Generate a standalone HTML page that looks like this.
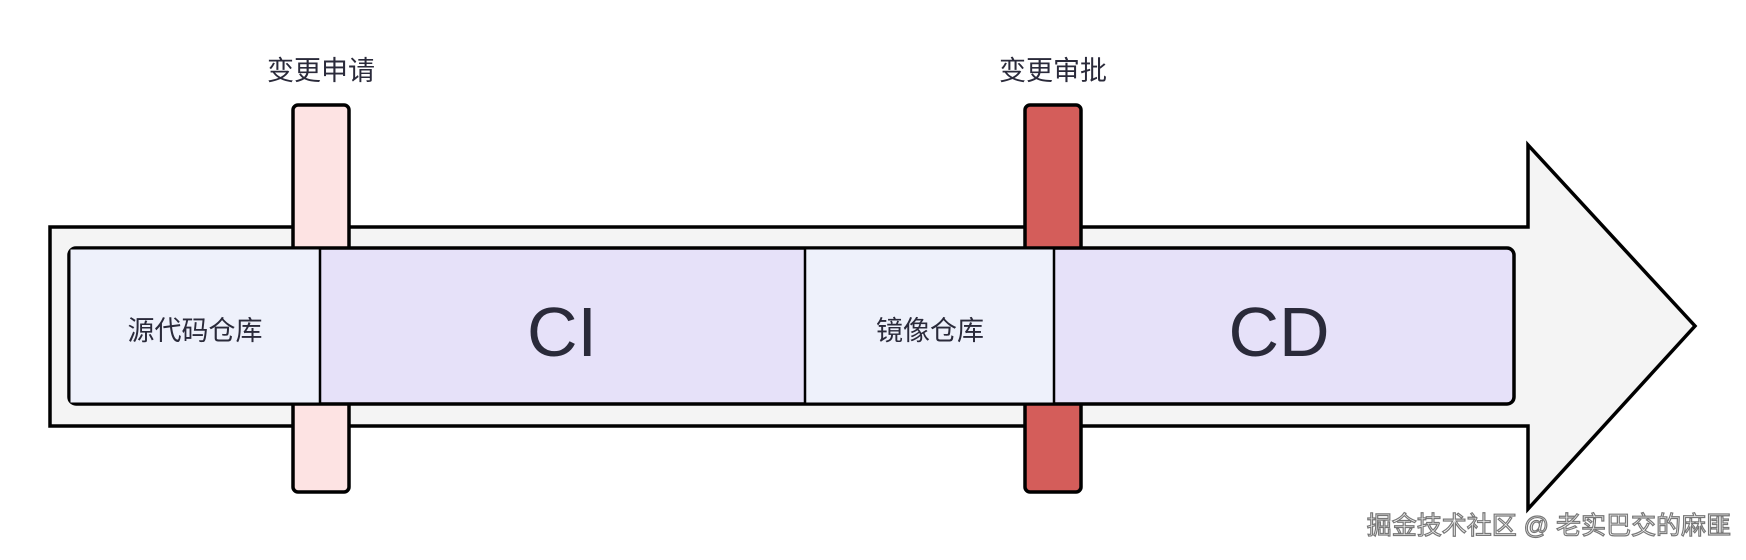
<!DOCTYPE html>
<html><head><meta charset="utf-8"><style>html,body{margin:0;padding:0;background:#fff}svg{display:block}text{font-family:"Liberation Sans","Noto Sans CJK SC",sans-serif;fill:#2a2a3a}</style></head>
<body>
<svg width="1746" height="560" viewBox="0 0 1746 560" xmlns="http://www.w3.org/2000/svg">
<polygon points="50,227 1528,227 1528,145 1695,326 1528,509 1528,426 50,426" fill="#f4f4f4" stroke="#000" stroke-width="3.5" stroke-linejoin="miter"/>
<rect x="293" y="105" width="56" height="387" rx="5" fill="#fde3e3" stroke="#000" stroke-width="3.5"/>
<rect x="1025" y="105" width="56" height="387" rx="5" fill="#d45d5a" stroke="#000" stroke-width="3.5"/>
<rect x="69" y="248" width="1445" height="156" rx="7" fill="#e6e1f9" stroke="#000" stroke-width="3.5"/>
<rect x="70.5" y="249.5" width="249" height="153" fill="#eef1fb"/>
<rect x="805" y="249.5" width="249" height="153" fill="#eef1fb"/>
<line x1="320" y1="248" x2="320" y2="404" stroke="#000" stroke-width="2.5"/>
<line x1="805" y1="248" x2="805" y2="404" stroke="#000" stroke-width="2.5"/>
<line x1="1054" y1="248" x2="1054" y2="404" stroke="#000" stroke-width="2.5"/>
<text x="321" y="80" font-size="27" text-anchor="middle">变更申请</text>
<text x="1053" y="80" font-size="27" text-anchor="middle">变更审批</text>
<text x="195" y="340" font-size="27" text-anchor="middle">源代码仓库</text>
<text x="562" y="356" font-size="70" text-anchor="middle">CI</text>
<text x="930" y="340" font-size="27" text-anchor="middle">镜像仓库</text>
<text x="1279" y="356" font-size="70" text-anchor="middle">CD</text>
<text x="1731" y="534" font-size="25" text-anchor="end" style="fill:#fff;stroke:#777;stroke-width:1.2">掘金技术社区 @ 老实巴交的麻匪</text>
</svg>
</body></html>
